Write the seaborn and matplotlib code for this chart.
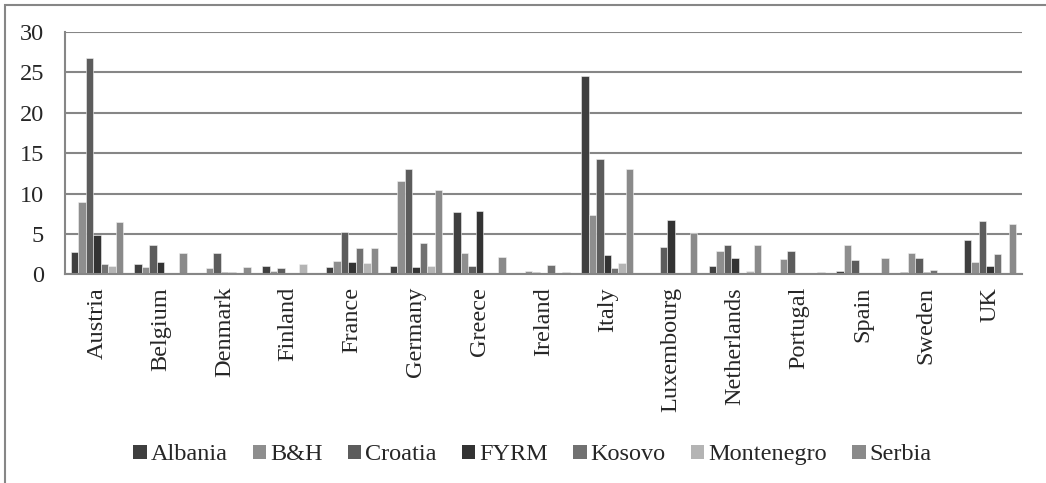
import pandas as pd
import seaborn as sns
import matplotlib.pyplot as plt
from matplotlib.patches import Patch, Rectangle

# Data
countries = ['Austria', 'Belgium', 'Denmark', 'Finland', 'France', 'Germany', 'Greece',
             'Ireland', 'Italy', 'Luxembourg', 'Netherlands', 'Portugal', 'Spain',
             'Sweden', 'UK']
origins = ['Albania', 'B&H', 'Croatia', 'FYRM', 'Kosovo', 'Montenegro', 'Serbia']

albania = [2.8, 1.3, 0.0, 1.0, 0.9, 1.1, 7.7, 0.0, 24.5, 0.0, 1.1, 0.0, 0.4, 0.25, 4.3]
bh = [9.0, 0.9, 0.75, 0.4, 1.7, 11.6, 2.6, 0.4, 7.4, 0.0, 2.85, 1.9, 3.6, 2.7, 1.5]
croatia = [26.8, 3.6, 2.7, 0.75, 5.3, 13.0, 1.0, 0.3, 14.3, 3.4, 3.6, 2.9, 1.8, 2.0, 6.6]
fyrm = [4.9, 1.6, 0.3, 0.15, 1.6, 0.95, 7.8, 0.15, 2.4, 6.7, 2.1, 0.0, 0.2, 0.35, 1.1]
kosovo = [1.25, 0.15, 0.25, 0.0, 3.3, 3.85, 0.0, 1.2, 0.8, 0.0, 0.0, 0.0, 0.0, 0.6, 2.5]
montenegro = [1.1, 0.1, 0.0, 1.35, 1.4, 1.05, 0.0, 0.0, 1.4, 0.0, 0.45, 0.0, 0.0, 0.0, 0.0]
serbia = [6.5, 2.7, 0.9, 0.0, 3.3, 10.5, 2.2, 0.25, 13.0, 5.1, 3.6, 0.25, 2.1, 0.0, 6.2]

colors = ['#3f3f3f', '#8e8e8e', '#5c5c5c', '#333333', '#717171', '#b4b4b4', '#8a8a8a']

series = [albania, bh, croatia, fyrm, kosovo, montenegro, serbia]
df = pd.DataFrame({
    'Country': countries * len(origins),
    'Origin': [o for o in origins for _ in countries],
    'Value': [v for s in series for v in s],
})

sns.set_style('white')
plt.rcParams['font.family'] = ['Liberation Serif', 'DejaVu Serif']

fig = plt.figure(figsize=(10.46, 4.83), dpi=100)
ax = fig.add_axes([0.0621, 0.4317, 0.9149, 0.502])

grid_col = '#868686'
sns.barplot(data=df, x='Country', y='Value', hue='Origin', order=countries,
            hue_order=origins, palette=colors, width=0.82, gap=0,
            edgecolor='#f2f2f2', linewidth=0.4, ax=ax, legend=False)

ax.set_ylim(0, 30)
ax.set_xlim(-0.5, len(countries) - 0.5)
ax.set_yticks(range(0, 31, 5))
ax.yaxis.grid(True, color=grid_col, linewidth=1.5)
ax.set_axisbelow(True)
ax.set_xlabel('')
ax.set_ylabel('')

for side in ['top', 'right']:
    ax.spines[side].set_visible(False)
for side in ['left', 'bottom']:
    ax.spines[side].set_color(grid_col)
    ax.spines[side].set_linewidth(1.5)

# category-boundary ticks on x, outward ticks on y
ax.set_xticks([i - 0.5 for i in range(len(countries) + 1)], minor=True)
ax.tick_params(axis='x', which='minor', length=5, width=1.5, color=grid_col, direction='out')
ax.tick_params(axis='x', which='major', length=0, labelsize=17.5, pad=9)
ax.set_xticklabels(countries, rotation=90)
ax.tick_params(axis='y', length=5, width=1.5, color=grid_col, direction='out',
               labelsize=17.5, pad=10)

handles = [Patch(facecolor=c, edgecolor='none', label=o) for o, c in zip(origins, colors)]
fig.legend(handles=handles, loc='center', bbox_to_anchor=(0.509, 0.058), ncol=7,
           frameon=False, fontsize=17.5, handlelength=0.55, handleheight=0.55,
           handletextpad=0.15, columnspacing=1.05)

# outer chart border (top and left visible)
fig.add_artist(Rectangle((5 / 1046, -0.5), 1.2, 1.5 - 5 / 483, transform=fig.transFigure,
                         fill=False, edgecolor=grid_col, linewidth=1.5))

fig.savefig('out.png', dpi=100)
